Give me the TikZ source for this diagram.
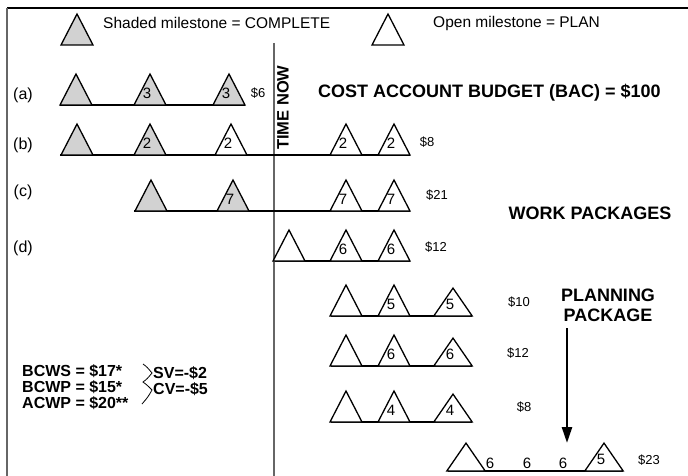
\documentclass[tikz,border=0pt]{standalone}
\usepackage{fontspec}
\setmainfont{Liberation Sans}
\usetikzlibrary{arrows.meta,positioning}
\tikzset{
  done/.style={draw,line width=1.3pt,fill=gray!35},
  planned/.style={draw,line width=1.3pt,fill=white},
  wide/.style={xscale=1.2,yscale=0.9},
  wpline/.style={line width=1.2pt},
  num/.style={inner sep=0pt,font=\fontsize{15}{15}\selectfont},
  cost/.style={inner sep=0pt,font=\fontsize{13}{13}\selectfont},
  tag/.style={inner sep=0pt,font=\fontsize{16}{16}\selectfont},
  title/.style={inner sep=0pt,font=\bfseries\fontsize{18}{20}\selectfont},
  var/.style={inner sep=0pt,anchor=west,align=left,font=\bfseries\fontsize{16}{16}\selectfont}
}
% milestone triangle: [style]{x}{base y}{value}
\newcommand{\milestone}[4][planned]{%
  \draw[shift={(#2,#3)},#1] (-16,0) -- (0,-31) -- (16,0) -- cycle;
  \node[num] (m#2-#3) at (#2-3,#3-12) {#4};}

\begin{document}
\begin{tikzpicture}[x=1pt,y=-1pt]
\useasboundingbox (0,0) rectangle (688,476);
\draw[line width=1.5pt] (7,8) -- (688,8);
\draw[line width=2pt,black!60] (7,8) -- (7,476);

% legend
\milestone[done]{77}{45}{}
\node[tag,anchor=west,font=\fontsize{15.5}{16}\selectfont] (lgdone) at (103,23) {Shaded milestone = COMPLETE};
\milestone{388}{45}{}
\node[tag,anchor=west,font=\fontsize{15.5}{16}\selectfont] (lgplan) at (433,23) {Open milestone = PLAN};

% time now
\draw[line width=1.5pt,black!60] (274,43) -- (274,476);
\node[inner sep=0pt,font=\bfseries\fontsize{16.5}{16}\selectfont,rotate=90,anchor=west] (tnow) at (283,150) {TIME NOW};

\node[title,anchor=west] (bac) at (318,93) {COST ACCOUNT BUDGET (BAC) = \$100};
\node[title] (wp) at (590,213) {WORK PACKAGES};
\node[title,align=center] (pp) at (608,305) {PLANNING\\PACKAGE};

% (a)
\node[tag] (la) at (23,95) {(a)};
\draw[wpline] (60,105) -- (245,105);
\milestone[done]{76}{105}{}
\milestone[done]{150}{105}{3}
\milestone[done]{229}{105}{3}
\node[cost] (ca) at (258,93) {\$6};

% (b)
\node[tag] (lb) at (23,145) {(b)};
\draw[wpline] (60,155) -- (410,155);
\milestone[done]{77}{155}{}
\milestone[done]{150}{155}{2}
\milestone{231}{155}{2}
\milestone{346}{155}{2}
\milestone{394}{155}{2}
\node[cost] (cb) at (427,142) {\$8};

% (c)
\node[tag] (lc) at (23,192) {(c)};
\draw[wpline] (134,211) -- (410,211);
\milestone[done]{151}{211}{}
\milestone[done]{233}{211}{7}
\milestone{346}{211}{7}
\milestone{394}{211}{7}
\node[cost] (cc) at (437,195) {\$21};

% (d)
\node[tag] (ld) at (23,248) {(d)};
\draw[wpline] (275,261) -- (410,261);
\milestone{289}{261}{}
\milestone{346}{261}{6}
\milestone{394}{261}{6}
\node[cost] (cd) at (436,247) {\$12};

% later packages
\draw[wpline] (331,316) -- (472,316);
\milestone{346}{316}{}
\milestone{394}{316}{5}
\milestone[planned,wide]{453}{316}{5}
\node[cost] (ce) at (519,302) {\$10};

\draw[wpline] (331,366) -- (472,366);
\milestone{346}{366}{}
\milestone{394}{366}{6}
\milestone[planned,wide]{453}{366}{6}
\node[cost] (cf) at (518,353) {\$12};

\draw[wpline] (331,422) -- (472,422);
\milestone{346}{422}{}
\milestone{394}{422}{4}
\milestone[planned,wide]{453}{422}{4}
\node[cost] (cg) at (524,407) {\$8};

% planning package
\draw[wpline] (448,471) -- (623,471);
\milestone[planned,wide]{466}{471}{}
\milestone[planned,wide]{604}{471}{5}
\foreach \x [count=\i] in {490,527,563}
  \node[num] (pp\i) at (\x,463) {6};
\node[cost] (ch) at (649,460) {\$23};

\coordinate (ppstart) at (567,328);
\coordinate (ppend) at (567,443);
\draw[line width=2.5pt,-{Triangle[length=16pt,width=10pt]}] (ppstart) -- (ppend);

% variances
\node[var] (ev) at (22,387) {BCWS = \$17*\\BCWP = \$15*\\ACWP = \$20**};
\node[var] (svcv) at (153,381) {SV=-\$2\\CV=-\$5};
\draw[line width=0.8pt] (143,364) .. controls (147,367) .. (152,373)
  .. controls (147,379) .. (143,382) .. controls (147,385) .. (152,390)
  .. controls (148,397) .. (142,404);
\end{tikzpicture}
\end{document}
